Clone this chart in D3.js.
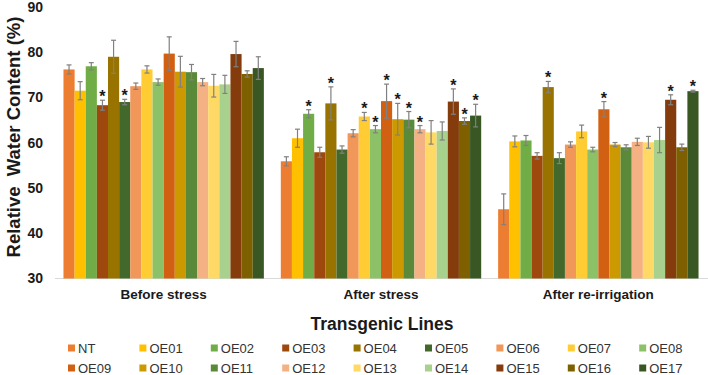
<!DOCTYPE html>
<html>
<head>
<meta charset="utf-8">
<script src="https://cdn.jsdelivr.net/npm/d3@7"></script>
<style>
  html, body { margin: 0; padding: 0; background: #fff; }
  svg { display: block; font-family: "Liberation Sans", Arial, sans-serif; }
</style>
</head>
<body>
<svg id="chart" width="708" height="375"></svg>
<script>
const stages = ["Before stress", "After stress", "After re-irrigation"];
const lines = ["NT","OE01","OE02","OE03","OE04","OE05","OE06","OE07","OE08",
               "OE09","OE10","OE11","OE12","OE13","OE14","OE15","OE16","OE17"];
const colors = ["#ED7D31","#FFC000","#70AD47","#9E480E","#997300","#43682B",
                "#F1975A","#FFCD33","#8CC168","#D26012","#CC9A00","#5A8A39",
                "#F4B183","#FFD966","#A9D18E","#843C0C","#7F6000","#385723"];
// mean values per stage (order follows `lines`)
const beforeStress = [76.2,71.5,76.9,68.3,79.0,69.0,72.5,76.2,73.4,79.7,75.7,75.6,73.4,72.6,72.9,79.6,75.2,76.5];
const afterStress  = [55.9,61.0,66.4,57.9,68.7,58.5,62.1,65.8,63.0,69.2,65.2,65.1,63.0,62.3,62.6,69.1,64.8,66.0];
const afterReirr   = [45.3,60.3,60.5,57.1,72.3,56.6,59.6,62.5,58.5,67.4,59.6,59.0,60.2,60.1,60.6,69.5,59.0,71.4];
// error (± SE)
const errBefore = [1.0,2.0,0.8,1.1,3.65,0.6,0.7,0.8,0.7,3.7,3.4,1.7,0.8,2.5,2.0,2.8,0.7,2.5];
const errAfter  = [1.0,2.0,0.9,1.1,3.65,0.8,0.8,0.9,0.8,3.76,3.5,1.8,0.8,2.6,2.0,2.8,0.7,2.5];
const errReirr  = [3.4,1.2,1.1,0.7,1.25,1.2,0.6,1.4,0.5,1.7,0.45,0.55,0.8,1.3,2.8,1.1,0.7,0.2];
// significance markers
const sigBefore = ["OE03","OE05"];
const sigAfter  = ["OE02","OE04","OE07","OE08","OE09","OE10","OE11","OE12","OE15","OE16","OE17"];
const sigReirr  = ["OE04","OE09","OE15","OE17"];
const yTicks = [30,40,50,60,70,80,90];

const valuesByStage = [beforeStress, afterStress, afterReirr];
const errByStage = [errBefore, errAfter, errReirr];
const sigByStage = [sigBefore, sigAfter, sigReirr];

const svg = d3.select("#chart");

const x0 = d3.scaleBand().domain(stages).range([55, 707]).paddingInner(0.078).paddingOuter(0.039);
const x1 = d3.scaleBand().domain(lines).range([0, x0.bandwidth()]).padding(0);
const y = d3.scaleLinear().domain([30, 90]).range([278.5, 7]);
const color = d3.scaleOrdinal().domain(lines).range(colors);

// Y axis (labels only)
const yAxis = d3.axisLeft(y).tickValues(yTicks).tickSize(0).tickPadding(0);
const gy = svg.append("g").attr("transform", "translate(43,0)").call(yAxis);
gy.select(".domain").remove();
gy.selectAll("text").attr("font-size", 14).attr("font-weight", "bold")
  .attr("fill", "#1a1a1a").attr("font-family", "'Liberation Sans', Arial, sans-serif");

// X axis
const xAxis = d3.axisBottom(x0).tickSize(0).tickPadding(0);
const gx = svg.append("g").attr("transform", "translate(0,278.5)").call(xAxis);
gx.select(".domain").attr("stroke", "#d9d9d9").attr("stroke-width", 1)
  .attr("d", "M55,0H708");
gx.selectAll("text").attr("font-size", 13.5).attr("font-weight", "bold")
  .attr("fill", "#1a1a1a").attr("dy", "1.55em")
  .attr("font-family", "'Liberation Sans', Arial, sans-serif");

// Bars
const rows = [];
stages.forEach((s, si) => {
  lines.forEach((l, li) => {
    rows.push({stage: s, line: l, v: valuesByStage[si][li], e: errByStage[si][li],
               sig: sigByStage[si].includes(l)});
  });
});

const g = svg.append("g");
const bx = d => x0(d.stage) + x1(d.line);
g.selectAll("rect.bar").data(rows).join("rect")
  .attr("class", "bar")
  .attr("x", d => bx(d))
  .attr("width", x1.bandwidth())
  .attr("y", d => y(d.v))
  .attr("height", d => y(30) - y(d.v))
  .attr("fill", d => color(d.line));

// Error bars
const eg = g.selectAll("g.err").data(rows).join("g").attr("class", "err")
  .attr("stroke", "#808080").attr("stroke-width", 1.2);
const cx = d => bx(d) + x1.bandwidth() / 2;
eg.append("line").attr("x1", cx).attr("x2", cx)
  .attr("y1", d => y(d.v + d.e)).attr("y2", d => y(d.v - d.e));
eg.append("line").attr("x1", d => cx(d) - 2.5).attr("x2", d => cx(d) + 2.5)
  .attr("y1", d => y(d.v + d.e)).attr("y2", d => y(d.v + d.e));
eg.append("line").attr("x1", d => cx(d) - 2.5).attr("x2", d => cx(d) + 2.5)
  .attr("y1", d => y(d.v - d.e)).attr("y2", d => y(d.v - d.e));

// Significance stars
g.selectAll("text.star").data(rows.filter(d => d.sig)).join("text")
  .attr("class", "star")
  .attr("x", cx)
  .attr("y", d => y(d.v + d.e) + 2)
  .attr("text-anchor", "middle")
  .attr("font-size", 16).attr("font-weight", "bold").attr("fill", "#1a1a1a")
  .text("*");

// Y axis title
svg.append("text")
  .attr("transform", "translate(20,137) rotate(-90)")
  .attr("text-anchor", "middle")
  .attr("font-size", 18.5).attr("font-weight", "bold").attr("fill", "#1a1a1a")
  .attr("xml:space", "preserve")
  .text("Relative  Water Content (%)");

// X axis title
svg.append("text")
  .attr("x", 382).attr("y", 330)
  .attr("text-anchor", "middle")
  .attr("font-size", 17.5).attr("font-weight", "bold").attr("fill", "#1a1a1a")
  .text("Transgenic Lines");

// Legend
const legend = svg.append("g");
const li = legend.selectAll("g").data(lines).join("g")
  .attr("transform", (d, i) => `translate(${68 + (i % 9) * 71.4},${348 + Math.floor(i / 9) * 20})`);
li.append("rect").attr("x", 0).attr("y", -3.5).attr("width", 7).attr("height", 7)
  .attr("fill", d => color(d));
li.append("text").attr("x", 10).attr("y", 0).attr("dy", "0.36em")
  .attr("font-size", 13).attr("fill", "#333").text(d => d);
</script>
</body>
</html>
